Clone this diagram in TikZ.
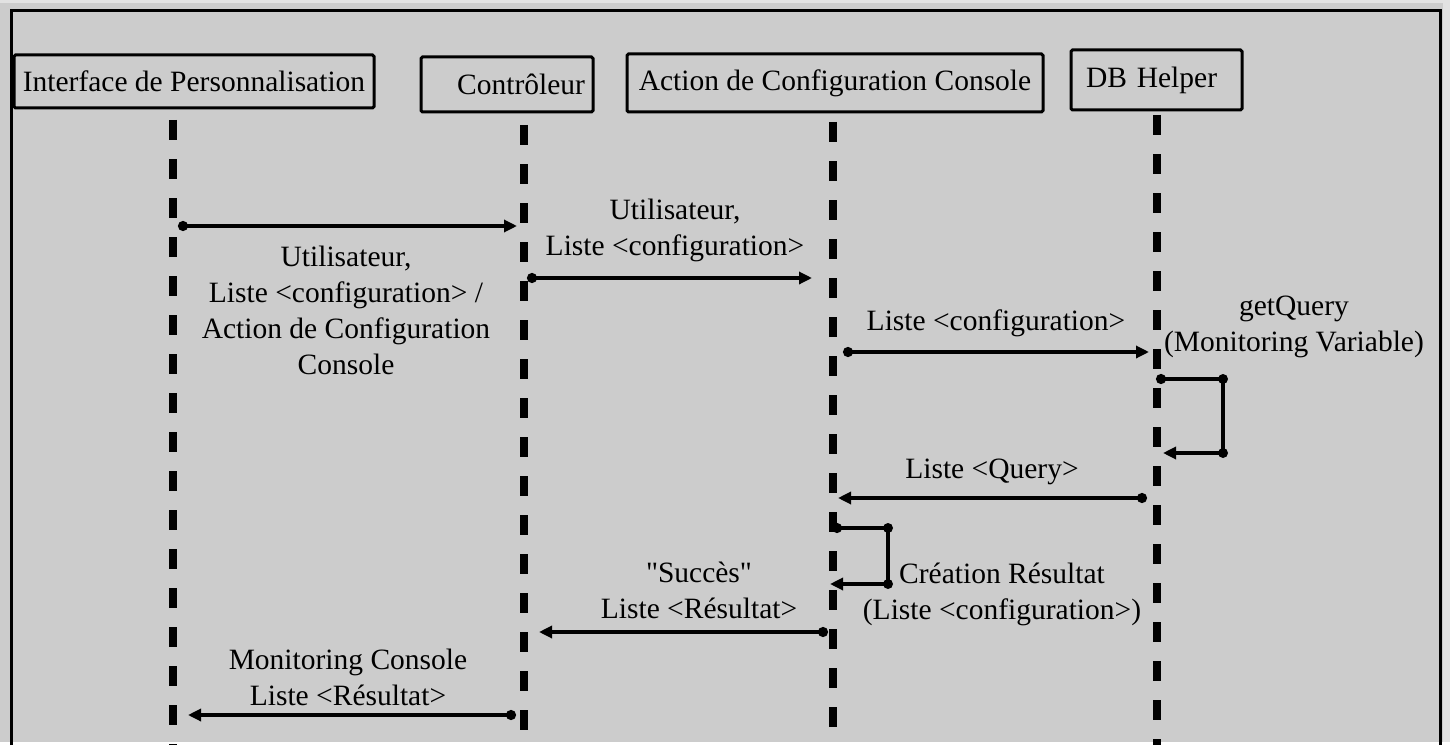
\documentclass[tikz,border=0pt]{standalone}
\usepackage{fontspec}
\setmainfont{Liberation Serif}[Ligatures=TeXOff]
\usetikzlibrary{arrows.meta,calc}
\definecolor{panel}{HTML}{CCCCCC}
\definecolor{outerbg}{HTML}{E2E2E2}

\begin{document}
\begin{tikzpicture}[x=1pt,y=-1pt,
  every node/.style={font=\fontsize{29.5}{36}\selectfont, inner sep=0pt},
  actor/.style={draw, line width=3pt, rounded corners=1.5pt, fill=panel},
  lifeline/.style={line width=8pt, dash pattern=on 20pt off 19pt},
  msg/.style={line width=3.2pt, {Circle[length=10pt]}-{Triangle[length=13pt,width=12pt]}},
  loopline/.style={line width=3.2pt, {Circle[length=10pt]}-{Triangle[length=13pt,width=12pt]}},
  msgtext/.style={align=center},
]
% page background and frame
\fill[outerbg] (0,0) rectangle (1450,742);
\fill[panel] (0,3) rectangle (1443,742);
\draw[line width=3pt] (11,745) -- (11,11) -- (1440,11) -- (1440,745);

% participants
\node[actor, minimum width=360pt, minimum height=53pt] (ip) at (194,81.5) {Interface de Personnalisation};
\node[actor, minimum width=172pt, minimum height=55pt, text width=156pt, align=right] (ctl) at (507,84.5) {Contrôleur};
\node[actor, minimum width=416pt, minimum height=58pt] (acc) at (835,83) {Action de Configuration Console};
\node[actor, minimum width=171pt, minimum height=60pt, text width=141pt, align=left] (db) at (1156.5,80) {\raisebox{3pt}{DB Helper}};

% lifelines
\coordinate (L1) at (173,120);
\coordinate (L2) at (524,125);
\coordinate (L3) at (833,122);
\coordinate (L4) at (1157,115);
\coordinate (L1e) at (173,745);
\coordinate (L2e) at (524,745);
\coordinate (L3e) at (833,745);
\coordinate (L4e) at (1157,745);
\draw[lifeline] (L1) -- (L1e);
\draw[lifeline] (L2) -- (L2e);
\draw[lifeline] (L3) -- (L3e);
\draw[lifeline] (L4) -- (L4e);

% messages
\draw[msg] ($(L1 |- 0,226)+(5,0)$) -- ($(L2 |- 0,226)+(-7,0)$);
\node[msgtext] (t1) at (346,310) {Utilisateur,\\Liste <configuration> /\\Action de Configuration\\Console};

\draw[msg] ($(L2 |- 0,278)+(3,0)$) -- ($(L3 |- 0,278)+(-21,0)$);
\node[msgtext] (t2) at (675,230.5) {Utilisateur,\\Liste <configuration>};

\draw[msg] ($(L3 |- 0,352)+(10,0)$) -- ($(L4 |- 0,352)+(-8,0)$);
\node[msgtext] (t3) at (996,323) {Liste <configuration>};

% self call on DB Helper
\coordinate (q1) at (1223,379);
\coordinate (q2) at (1223,453);
\draw[loopline] ($(L4 |- 0,379)+(-1,0)$) -- (q1) -- (q2) -- ($(L4 |- 0,453)+(6,0)$);
\fill (q1) circle (5pt);
\fill (q2) circle (5pt);
\node[msgtext] (t4) at (1294,326.5) {getQuery\\(Monitoring Variable)};

\draw[msg] ($(L4 |- 0,498)+(-10,0)$) -- ($(L3 |- 0,498)+(5,0)$);
\node[msgtext] (t5) at (992,472) {Liste <Query>};

% self call on Action de Configuration Console
\coordinate (r1) at (888,528);
\coordinate (r2) at (888,584);
\draw[loopline] ($(L3 |- 0,528)+(-1,0)$) -- (r1) -- (r2) -- ($(L3 |- 0,584)+(-3,0)$);
\fill (r1) circle (5pt);
\fill (r2) circle (5pt);
\node[msgtext] (t6) at (1002,594) {Création Résultat\\(Liste <configuration>)};

\draw[msg] ($(L3 |- 0,632)+(-5,0)$) -- ($(L2 |- 0,632)+(15,0)$);
\node[msgtext] (t7) at (699,590) {"Succès"\\Liste <Résultat>};

\draw[msg] ($(L2 |- 0,715)+(-8,0)$) -- ($(L1 |- 0,715)+(15,0)$);
\node[msgtext] (t8) at (348,677) {Monitoring Console\\Liste <Résultat>};
\end{tikzpicture}
\end{document}
